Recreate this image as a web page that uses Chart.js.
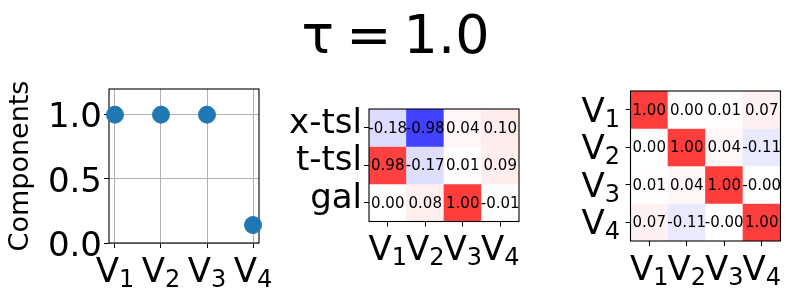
<!DOCTYPE html>
<html>
<head>
<meta charset="utf-8">
<script src="https://cdn.jsdelivr.net/npm/chart.js@4"></script>
<style>
  body { margin: 0; background: #fff; }
  #wrap { position: relative; width: 791px; height: 299px; overflow: hidden; }
  canvas { position: absolute; left: 0; top: 0; }
</style>
</head>
<body>
<div id="wrap">
  <canvas id="compCanvas" width="791" height="299"></canvas>
  <canvas id="loadCanvas" width="791" height="299"></canvas>
  <canvas id="corrCanvas" width="791" height="299"></canvas>
</div>
<script>
// data
var titleText = "τ = 1.0";
var categories = ["V1", "V2", "V3", "V4"];
var componentValues = [1.0, 1.0, 1.0, 0.14];
var componentTicks = [0, 0.5, 1.0];
var rowLabels = ["x-tsl", "t-tsl", "gal"];
var loadings = [
  [-0.18, -0.98, 0.04, 0.10],
  [0.98, -0.17, 0.01, 0.09],
  [0.00, 0.08, 1.00, -0.01]
];
var corr = [
  [1.00, 0.00, 0.01, 0.07],
  [0.00, 1.00, 0.04, -0.11],
  [0.01, 0.04, 1.00, -0.002],
  [0.07, -0.11, -0.002, 1.00]
];

var FONT = "DejaVu Sans";
Chart.defaults.font.family = FONT;
Chart.defaults.color = "#000";

// bwr colormap (-1..1) blended with alpha on white
function bwr(v) {
  var t = (v + 1) / 2, r, g, b;
  if (t < 0.5) { r = g = 2 * t; b = 1; } else { r = 1; g = b = 2 * (1 - t); }
  var a = 0.76;
  function c(x) { return Math.round(255 * (a * x + 1 - a)); }
  return "rgb(" + c(r) + "," + c(g) + "," + c(b) + ")";
}

// "V1" -> V with subscript 1
function drawSubLabel(ctx, text, x, y, align) {
  var main = text.slice(0, 1), sub = text.slice(1);
  ctx.font = "34px '" + FONT + "'";
  var w1 = ctx.measureText(main).width;
  ctx.font = "24px '" + FONT + "'";
  var w2 = ctx.measureText(sub).width;
  var left = align === "center" ? x - (w1 + w2) / 2 : x - (w1 + w2);
  ctx.textAlign = "left";
  ctx.textBaseline = "alphabetic";
  ctx.fillStyle = "#000";
  ctx.font = "34px '" + FONT + "'";
  ctx.fillText(main, left, y);
  ctx.font = "24px '" + FONT + "'";
  ctx.fillText(sub, left + w1, y + 5);
}

function subLabels(axes) {
  return {
    id: "subLabels",
    afterDraw: function(chart) {
      var ctx = chart.ctx;
      ctx.save();
      axes.forEach(function(id) {
        var s = chart.scales[id];
        s.ticks.forEach(function(t, i) {
          if (s.isHorizontal()) {
            drawSubLabel(ctx, categories[i], s.getPixelForValue(t.value), chart.chartArea.bottom + 38.5, "center");
          } else {
            drawSubLabel(ctx, categories[i], chart.chartArea.left - 10.5, s.getPixelForValue(t.value) + 12, "right");
          }
        });
      });
      ctx.restore();
    }
  };
}

function frame(hook) {
  var p = { id: "frame" };
  p[hook] = function(chart) {
    var a = chart.chartArea, ctx = chart.ctx;
    ctx.save();
    ctx.strokeStyle = "#000";
    ctx.lineWidth = 1.1;
    ctx.strokeRect(a.left, a.top, a.right - a.left, a.bottom - a.top);
    ctx.restore();
  };
  return p;
}

var figTitle = {
  id: "figTitle",
  afterDraw: function(chart) {
    var ctx = chart.ctx;
    ctx.save();
    ctx.font = "54px '" + FONT + "'";
    ctx.fillStyle = "#000";
    ctx.textAlign = "center";
    ctx.textBaseline = "alphabetic";
    ctx.wordSpacing = "-5px";
    ctx.fillText(titleText, 395.5, 53);
    ctx.restore();
  }
};

var cellText = {
  id: "cellText",
  afterDatasetsDraw: function(chart) {
    var ctx = chart.ctx, xs = chart.scales.x, ys = chart.scales.y;
    ctx.save();
    ctx.font = "15px '" + FONT + "'";
    ctx.fillStyle = "#000";
    ctx.textAlign = "center";
    ctx.textBaseline = "middle";
    chart.data.datasets.forEach(function(ds, r) {
      ds.values.forEach(function(v, c) {
        ctx.fillText(v.toFixed(2), xs.getPixelForValue(c), ys.getPixelForValue(r + 0.5) + 1);
      });
    });
    ctx.restore();
  }
};

////////////////////
// COMPONENTS     //
////////////////////
new Chart(document.getElementById("compCanvas"), {
  type: "scatter",
  data: {
    datasets: [{
      data: componentValues.map(function(v, i) { return { x: i, y: v }; }),
      backgroundColor: "#1f77b4",
      borderColor: "#1f77b4",
      pointRadius: 8.5,
      pointHoverRadius: 8.5,
      clip: false
    }]
  },
  options: {
    responsive: false,
    animation: false,
    events: [],
    layout: { autoPadding: false, padding: { left: 0, top: 89, right: 532, bottom: 0 } },
    plugins: { legend: { display: false }, tooltip: { enabled: false } },
    scales: {
      x: {
        type: "linear", min: -0.13, max: 3.13,
        afterBuildTicks: function(s) { s.ticks = categories.map(function(c, i) { return { value: i }; }); },
        afterFit: function(s) { s.height = 56; },
        grid: { color: "#b0b0b0", lineWidth: 1, tickColor: "#000", tickLength: 5 },
        border: { display: false },
        ticks: { callback: function() { return ""; } }
      },
      y: {
        min: 0, max: 1.2,
        afterBuildTicks: function(s) { s.ticks = componentTicks.map(function(v) { return { value: v }; }); },
        afterFit: function(s) { s.width = 109; },
        grid: { color: "#b0b0b0", lineWidth: 1, tickColor: "#000", tickLength: 5 },
        border: { display: false },
        ticks: { font: { size: 34 }, padding: 2, labelOffset: 4, callback: function(v) { return v.toFixed(1); } },
        title: { display: true, text: "Components", font: { size: 27 }, padding: { top: 5, bottom: 0 } }
      }
    }
  },
  plugins: [frame("beforeDatasetsDraw"), subLabels(["x"]), figTitle]
});

////////////////////
// HEATMAPS       //
////////////////////
function makeHeatmap(canvasId, matrix, yLabels, pad, yWidth, xHeight) {
  return new Chart(document.getElementById(canvasId), {
    type: "bar",
    data: {
      labels: categories,
      datasets: matrix.map(function(row, r) {
        return {
          data: row.map(function() { return [r, r + 1]; }),
          values: row,
          backgroundColor: row.map(bwr),
          borderWidth: 0,
          barPercentage: 1,
          categoryPercentage: 1,
          grouped: false
        };
      })
    },
    options: {
      responsive: false,
      animation: false,
      events: [],
      layout: { autoPadding: false, padding: pad },
      plugins: { legend: { display: false }, tooltip: { enabled: false } },
      scales: {
        x: {
          afterFit: function(s) { s.height = xHeight; },
          grid: { offset: false, drawOnChartArea: false, tickColor: "#000", tickLength: 5 },
          border: { display: false },
          ticks: { callback: function() { return ""; } }
        },
        y: {
          min: 0, max: matrix.length, reverse: true,
          afterBuildTicks: function(s) { s.ticks = matrix.map(function(row, i) { return { value: i + 0.5 }; }); },
          afterFit: function(s) { s.width = yWidth; },
          grid: { drawOnChartArea: false, tickColor: "#000", tickLength: 5 },
          border: { display: false },
          ticks: {
            font: { size: 34 }, padding: 2, labelOffset: -4,
            callback: function(v, i) { return yLabels ? yLabels[i] : ""; }
          }
        }
      }
    },
    plugins: [cellText, frame("afterDatasetsDraw"), subLabels(yLabels ? ["x"] : ["x", "y"])]
  });
}

makeHeatmap("loadCanvas", loadings, rowLabels, { left: 0, top: 109, right: 272, bottom: 0 }, 369, 77.5);
makeHeatmap("corrCanvas", corr, null, { left: 0, top: 91, right: 10.5, bottom: 0 }, 630.5, 58);
</script>
</body>
</html>
